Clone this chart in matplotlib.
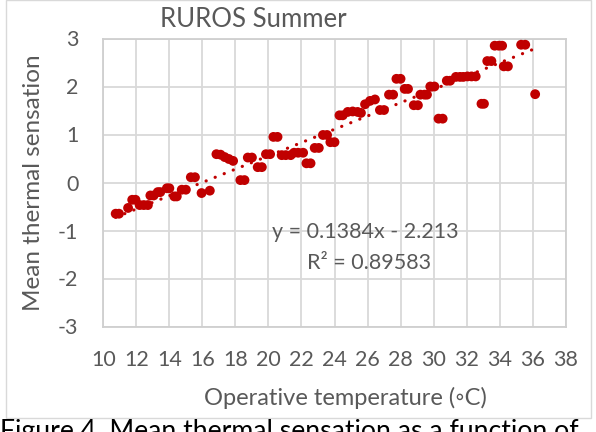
import matplotlib
matplotlib.use("Agg")
import matplotlib.pyplot as plt
from matplotlib.patches import Rectangle
import numpy as np

# ---- data ----
temperature = [10.75, 10.95, 11.5, 11.75, 11.95, 12.2, 12.45, 12.7, 12.85, 13.05,
               13.3, 13.45, 13.85, 14.0, 14.3, 14.45, 14.75, 15.0, 15.3, 15.55,
               15.95, 16.45, 16.85, 17.1, 17.35, 17.6, 17.86, 18.3, 18.55, 18.75,
               19.0, 19.35, 19.6, 19.85, 20.1, 20.3, 20.55, 20.8, 21.05, 21.35,
               21.55, 21.8, 22.1, 22.3, 22.55, 22.8, 23.05, 23.3, 23.55, 23.75,
               24.0, 24.3, 24.5, 24.8, 25.1, 25.4, 25.6, 25.85, 26.15, 26.45,
               26.75, 27.0, 27.3, 27.55, 27.75, 28.0, 28.25, 28.45, 28.8, 29.05,
               29.2, 29.45, 29.6, 29.8, 30.05, 30.3, 30.55, 30.8, 31.0, 31.35,
               31.6, 31.8, 32.05, 32.3, 32.55, 32.9, 33.05, 33.25, 33.5, 33.7,
               33.95, 34.15, 34.25, 34.5, 35.3, 35.55, 36.15]
sensation = [-0.65, -0.65, -0.53, -0.36, -0.36, -0.47, -0.47, -0.47, -0.27, -0.27,
             -0.2, -0.2, -0.12, -0.12, -0.29, -0.29, -0.15, -0.15, 0.11, 0.11,
             -0.22, -0.17, 0.59, 0.58, 0.53, 0.49, 0.45, 0.05, 0.05, 0.52,
             0.52, 0.32, 0.32, 0.59, 0.59, 0.95, 0.95, 0.57, 0.57, 0.57,
             0.62, 0.62, 0.62, 0.4, 0.4, 0.72, 0.72, 0.99, 0.99, 0.84,
             0.84, 1.4, 1.4, 1.47, 1.48, 1.47, 1.45, 1.63, 1.7, 1.73,
             1.51, 1.51, 1.83, 1.83, 2.16, 2.16, 1.95, 1.95, 1.61, 1.61,
             1.83, 1.83, 1.83, 2.0, 2.0, 1.33, 1.33, 2.12, 2.12, 2.2,
             2.2, 2.2, 2.21, 2.21, 2.21, 1.64, 1.64, 2.53, 2.53, 2.85,
             2.85, 2.85, 2.42, 2.42, 2.87, 2.87, 1.84]
slope = 0.1384
intercept = -2.213
r_squared = "0.89583"
x_ticks = list(range(10, 39, 2))
y_ticks = [-3, -2, -1, 0, 1, 2, 3]

title = "RUROS Summer"
x_label = "Operative temperature (\u25e6C)"
y_label = "Mean thermal sensation"
caption = "Figure 4. Mean thermal sensation as a function of"

# ---- style ----
FONT = ['Lato', 'DejaVu Sans']
plt.rcParams['font.family'] = FONT
plt.rcParams['axes.unicode_minus'] = False
GRAY = '#595959'
RED = '#C00000'
W, H = 596, 432

fig = plt.figure(figsize=(W / 100, H / 100), dpi=100)
L, R, T, B = 103.3, 565.7, 38.5, 326.5
ax = fig.add_axes([L / W, 1 - B / H, (R - L) / W, (B - T) / H])

ax.set_xlim(10, 38)
ax.set_ylim(-3, 3)
ax.set_xticks(x_ticks)
ax.set_yticks(y_ticks)
ax.grid(True, color='#d9d9d9', linewidth=1.3)
ax.set_axisbelow(True)
for s in ax.spines.values():
    s.set_color('#cfcfcf')
    s.set_linewidth(1.3)
ax.tick_params(length=0, labelsize=15.5, labelcolor=GRAY)
ax.tick_params(axis='x', pad=17)
ax.tick_params(axis='y', pad=18)

ax.scatter(temperature, sensation, s=50, color=RED, edgecolors='none', zorder=3)

xs = np.array([min(temperature), max(temperature)])
ax.plot(xs, slope * xs + intercept, color=RED, linewidth=2.3,
        linestyle=(0, (0.05, 3.0)), dash_capstyle='round', zorder=4)

def fx(px):
    return px / W

def fy(py):
    return 1 - py / H

fig.text(fx(272.5), fy(237.5), f"y = {slope}x - {abs(intercept)}", fontsize=15.5,
         color=GRAY, ha='left', va='baseline')
fig.text(fx(307), fy(269.3), f"R\u00b2 = {r_squared}", fontsize=15.5,
         color=GRAY, ha='left', va='baseline')

fig.text(fx(253), fy(26.7), title, fontsize=18.5, color=GRAY, ha='center', va='baseline')
fig.text(fx(33.5), fy(182.5), y_label, fontsize=17.5, color=GRAY, rotation=90,
         ha='center', va='center')
fig.text(fx(345), fy(405), x_label, fontsize=17, color=GRAY, ha='center', va='baseline')

# chart frame and caption
fig.patches.append(Rectangle((fx(5.5), fy(417.5)), fx(591) - fx(5.5), fy(0) - fy(417.5),
                             transform=fig.transFigure, fill=False,
                             edgecolor='#d9d9d9', linewidth=1.0))
fig.text(fx(0), fy(419), caption, fontsize=19.2, color='black', ha='left', va='top')

fig.savefig('out.png', dpi=100)
